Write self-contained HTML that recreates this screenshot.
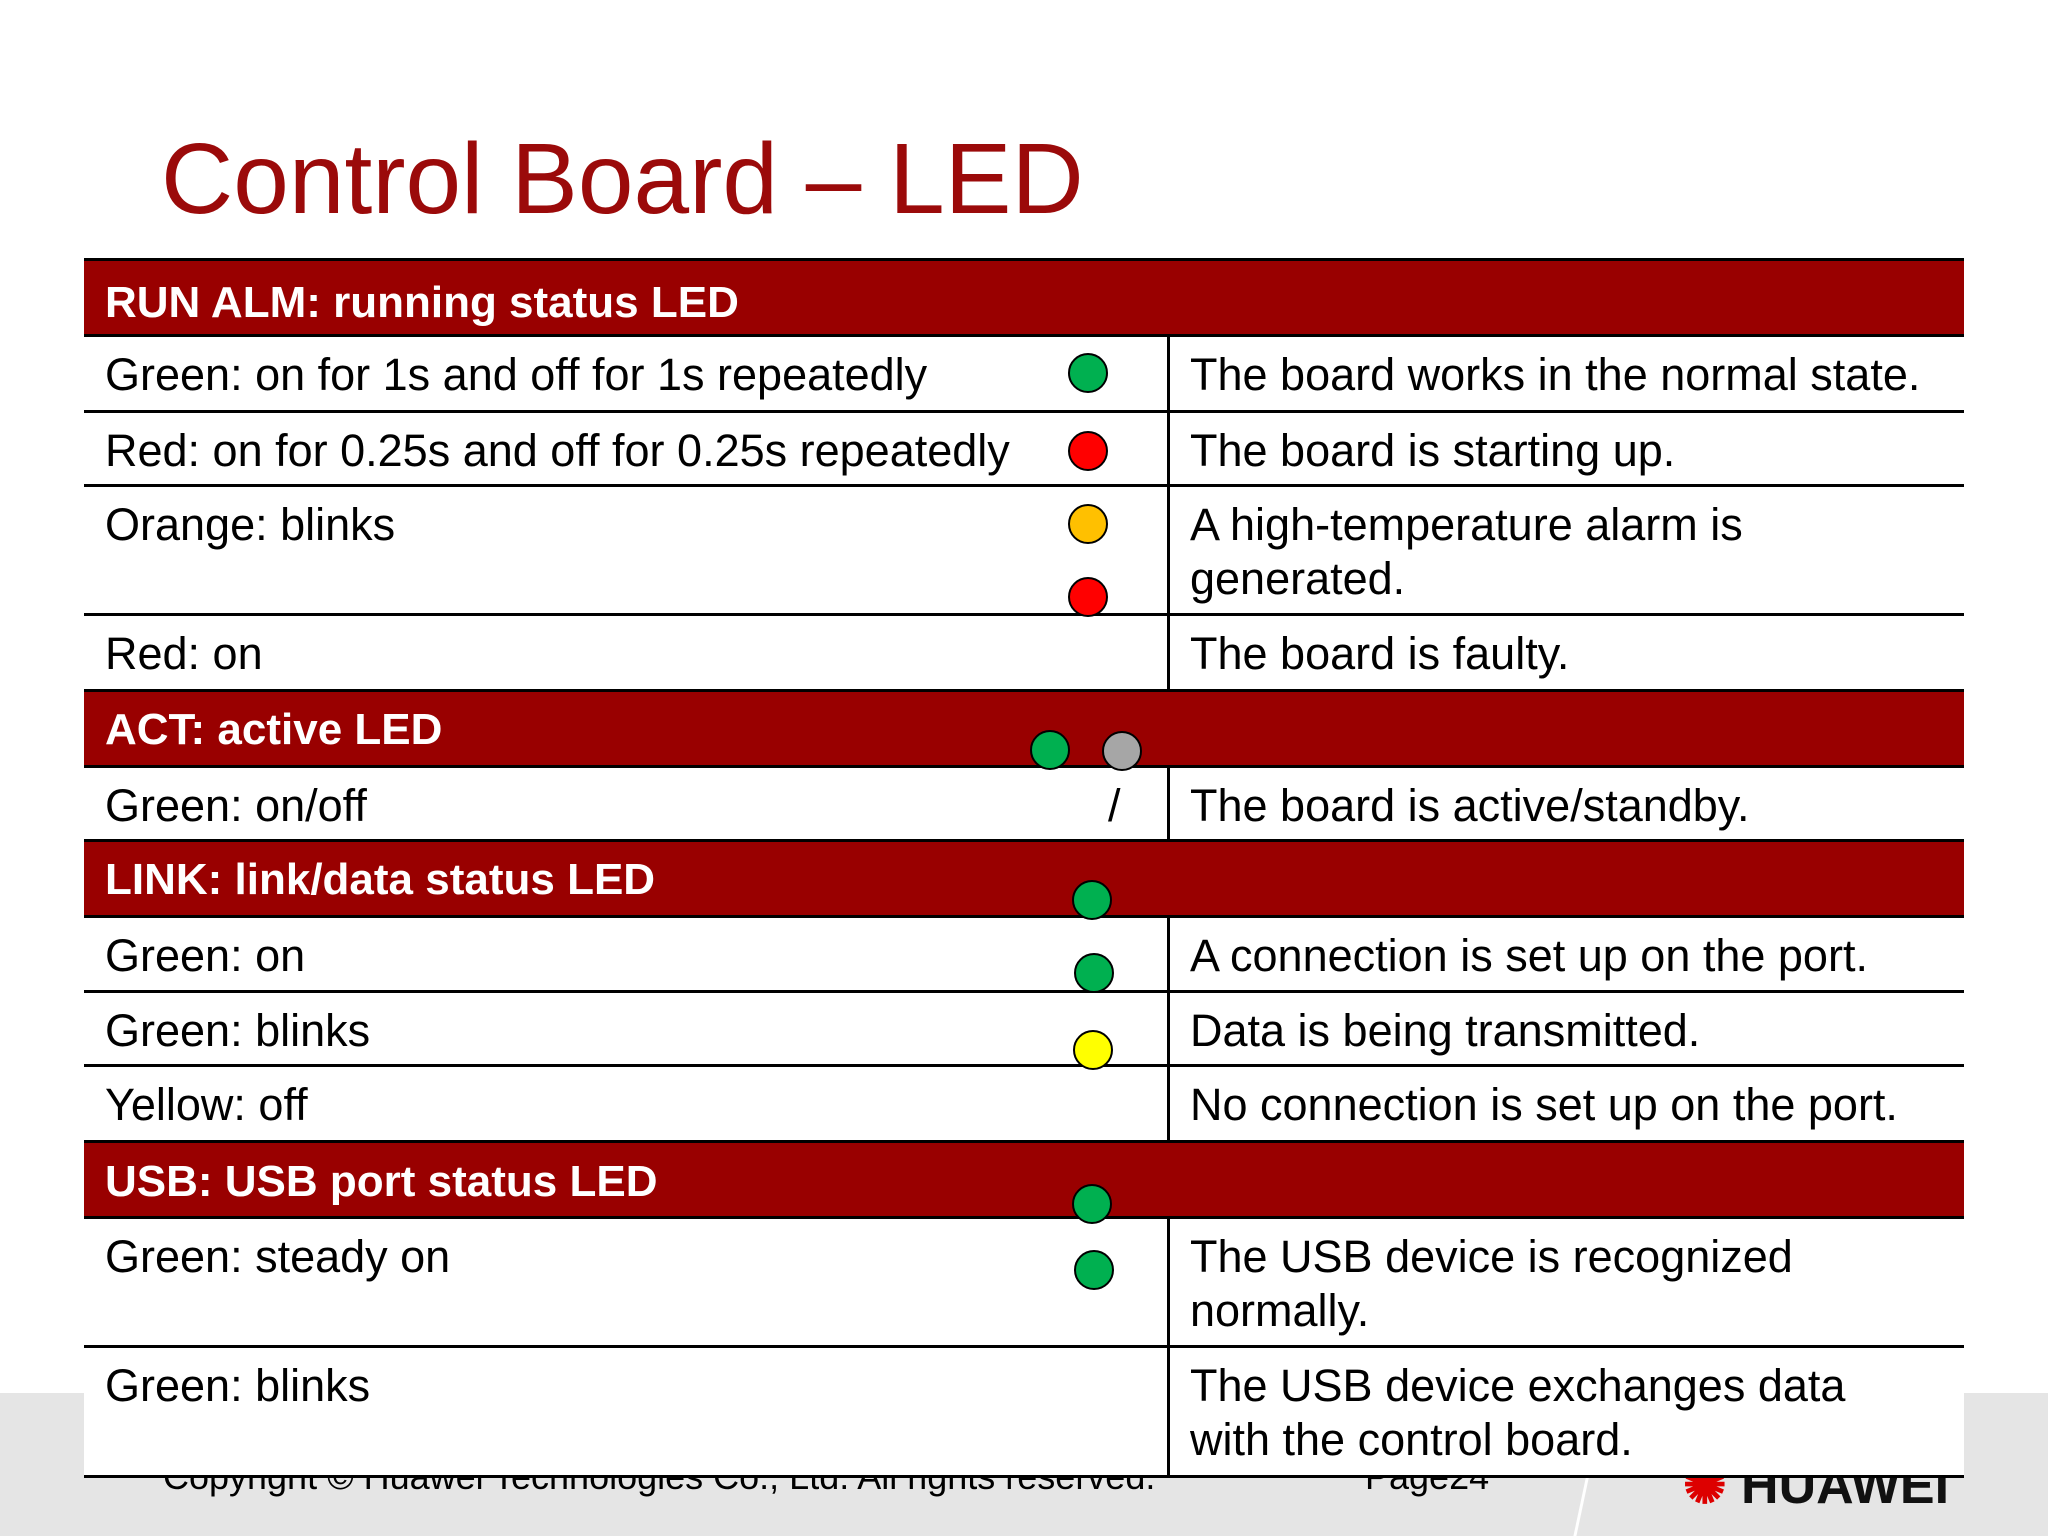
<!DOCTYPE html>
<html><head><meta charset="utf-8"><style>
body{margin:0;width:2048px;height:1536px;position:relative;background:#fff;font-family:"Liberation Sans",sans-serif;overflow:hidden}
.abs{position:absolute}
#band{left:0;top:1393px;width:2048px;height:143px;background:#e5e5e5}
#title{left:161px;top:122px;font-size:100px;color:#9b0a0a;white-space:nowrap}
.hdr{position:absolute;left:84px;width:1880px;background:#990000;color:#fff;font-weight:bold;font-size:44px;border-top:3px solid #000;border-bottom:3px solid #000;box-sizing:border-box;padding-left:21px;line-height:54px}
.row{position:absolute;left:84px;width:1880px;background:#fff;border-bottom:3px solid #000;box-sizing:border-box;font-size:45px;line-height:54px}
.c1{position:absolute;left:21px;top:11px;white-space:nowrap}
.c2{position:absolute;left:1106px;top:11px;width:742px}
.div{position:absolute;left:1083px;top:0;bottom:-3px;width:3px;background:#000}
.led{position:absolute;width:36px;height:36px;border-radius:50%;border:2.5px solid #000;transform:translate(-20px,-20px)}
.foot{font-size:36px;color:#000;white-space:nowrap}
</style></head><body>
<div id="band" class="abs"></div>
<div id="title" class="abs">Control Board – LED</div>

<div class="abs foot" style="left:163px;top:1456px">Copyright © Huawei Technologies Co., Ltd. All rights reserved.</div>
<div class="abs foot" style="left:1365px;top:1456px">Page24</div>
<div class="abs" style="left:1580px;top:1470px;width:3px;height:70px;background:#fff;transform:skewX(-12deg)"></div>
<div class="abs" style="left:1683px;top:1456px;font-size:52px;font-weight:bold;color:#111"><span style="color:#d00">✺</span> HUAWEI</div>

<div class="hdr" style="top:258px;height:79px;line-height:84px">RUN ALM: running status LED</div>
<div class="row" style="top:337px;height:76px"><span class="c1">Green: on for 1s and off for 1s repeatedly</span><span class="c2">The board works in the normal state.</span><div class="div"></div></div>
<div class="row" style="top:413px;height:74px"><span class="c1">Red: on for 0.25s and off for 0.25s repeatedly</span><span class="c2">The board is starting up.</span><div class="div"></div></div>
<div class="row" style="top:487px;height:129px"><span class="c1">Orange: blinks</span><span class="c2">A high-temperature alarm is generated.</span><div class="div"></div></div>
<div class="row" style="top:616px;height:76px"><span class="c1">Red: on</span><span class="c2">The board is faulty.</span><div class="div"></div></div>
<div class="hdr" style="top:689px;height:79px;line-height:76px">ACT: active LED</div>
<div class="row" style="top:768px;height:74px"><span class="c1">Green: on/off</span><span class="abs" style="left:1024px;top:11px">/</span><span class="c2">The board is active/standby.</span><div class="div"></div></div>
<div class="hdr" style="top:839px;height:79px;line-height:76px">LINK: link/data status LED</div>
<div class="row" style="top:918px;height:75px"><span class="c1">Green: on</span><span class="c2">A connection is set up on the port.</span><div class="div"></div></div>
<div class="row" style="top:993px;height:74px"><span class="c1">Green: blinks</span><span class="c2">Data is being transmitted.</span><div class="div"></div></div>
<div class="row" style="top:1067px;height:76px"><span class="c1">Yellow: off</span><span class="c2">No connection is set up on the port.</span><div class="div"></div></div>
<div class="hdr" style="top:1140px;height:79px;line-height:78px">USB: USB port status LED</div>
<div class="row" style="top:1219px;height:129px"><span class="c1">Green: steady on</span><span class="c2">The USB device is recognized normally.</span><div class="div"></div></div>
<div class="row" style="top:1348px;height:130px"><span class="c1">Green: blinks</span><span class="c2">The USB device exchanges data with the control board.</span><div class="div"></div></div>

<div class="led" style="left:1088px;top:373px;background:#00b050"></div>
<div class="led" style="left:1088px;top:451px;background:#ff0000"></div>
<div class="led" style="left:1088px;top:524px;background:#ffc000"></div>
<div class="led" style="left:1088px;top:597px;background:#ff0000"></div>
<div class="led" style="left:1050px;top:750px;background:#00b050"></div>
<div class="led" style="left:1122px;top:751px;background:#a6a6a6"></div>
<div class="led" style="left:1092px;top:900px;background:#00b050"></div>
<div class="led" style="left:1094px;top:973px;background:#00b050"></div>
<div class="led" style="left:1093px;top:1050px;background:#ffff00"></div>
<div class="led" style="left:1092px;top:1204px;background:#00b050"></div>
<div class="led" style="left:1094px;top:1270px;background:#00b050"></div>
</body></html>
